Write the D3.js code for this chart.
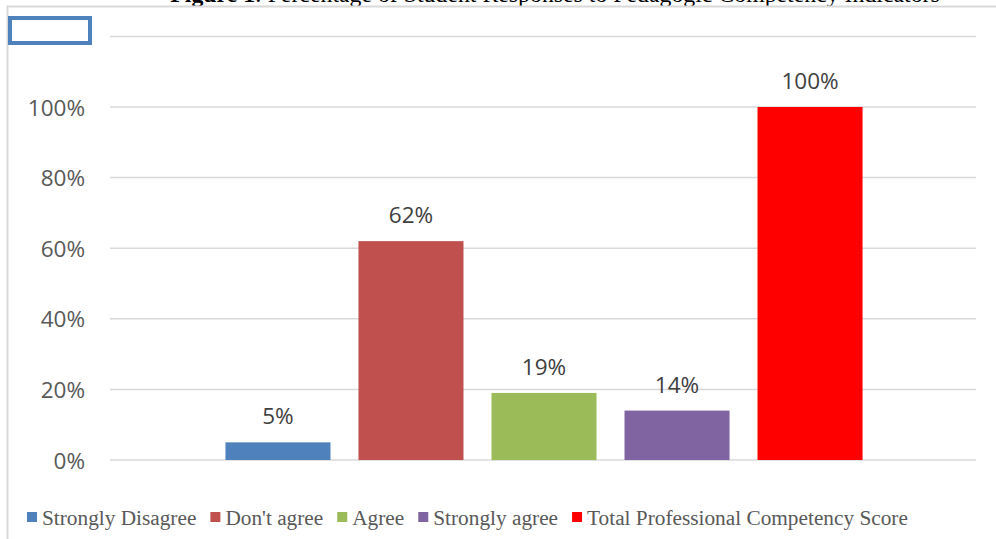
<!DOCTYPE html>
<html><head><meta charset="utf-8">
<script src="https://cdn.jsdelivr.net/npm/d3@7"></script>
<style>html,body{margin:0;padding:0;background:#fff;overflow:hidden}</style>
</head><body>
<svg id="chart" width="996" height="539"></svg>
<script>
const seriesNames = ["Strongly Disagree", "Don't agree", "Agree", "Strongly agree", "Total Professional Competency Score"];
const seriesValues = [0.05, 0.62, 0.19, 0.14, 1.00];
const seriesColors = ["#4f81bd", "#c0504d", "#9bbb59", "#8064a2", "#ff0000"];
const tickValues = [0, 0.2, 0.4, 0.6, 0.8, 1.0, 1.2];
const tickLabels = ["0%", "20%", "40%", "60%", "80%", "100%", ""];
const titleBold = "Figure 1";
const titleRest = ": Percentage of Student Responses to Pedagogic Competency Indicators";

const svg = d3.select("#chart");
const W = 996, H = 539;
const plot = {left: 112, right: 976, top: 36.4, bottom: 460};

// title (clipped at top as in source)
const title = svg.append("text").attr("x", 555).attr("y", 2).attr("text-anchor", "middle")
  .attr("font-family", "'Liberation Serif', 'Times New Roman', serif").attr("font-size", 23.8).attr("fill", "#000");
title.append("tspan").attr("font-weight", "bold").text(titleBold);
title.append("tspan").text(titleRest);

// chart border
svg.append("path").attr("d", `M7.5,${H} V6.5 H${W}`).attr("fill", "none").attr("stroke", "#d9d9d9").attr("stroke-width", 2);

// blue box
svg.append("rect").attr("x", 10).attr("y", 18).attr("width", 80).attr("height", 25)
  .attr("fill", "#fff").attr("stroke", "#4f81bd").attr("stroke-width", 4);

const y = d3.scaleLinear().domain([0, 1.2]).range([plot.bottom, plot.top]);
const x = d3.scaleBand().domain(seriesNames).range([plot.left, plot.right])
  .paddingInner(0.2105).paddingOuter(0.853);

// gridlines
svg.append("g").selectAll("line").data(tickValues).join("line")
  .attr("x1", plot.left - 2).attr("x2", plot.right)
  .attr("y1", d => y(d)).attr("y2", d => y(d))
  .attr("stroke", "#d9d9d9").attr("stroke-width", 1.5);

// y axis labels
const yAxis = d3.axisLeft(y).tickValues(tickValues).tickSize(0).tickPadding(0)
  .tickFormat((d, i) => tickLabels[i]);
const ya = svg.append("g").attr("transform", "translate(85,0)").call(yAxis);
ya.select(".domain").remove();
ya.selectAll("text").attr("font-family", "'Open Sans', sans-serif").attr("font-size", 22.5)
  .attr("fill", "#595959").attr("dy", "0.36em");

// bars
svg.append("g").selectAll("rect").data(seriesNames).join("rect")
  .attr("x", d => x(d)).attr("width", x.bandwidth())
  .attr("y", (d, i) => y(seriesValues[i]))
  .attr("height", (d, i) => y(0) - y(seriesValues[i]))
  .attr("fill", (d, i) => seriesColors[i]);

// data labels
svg.append("g").selectAll("text").data(seriesNames).join("text")
  .attr("x", d => x(d) + x.bandwidth() / 2)
  .attr("y", (d, i) => y(seriesValues[i]) - 18)
  .attr("text-anchor", "middle")
  .attr("font-family", "'Open Sans', sans-serif").attr("font-size", 22.5).attr("fill", "#404040")
  .text((d, i) => Math.round(seriesValues[i] * 100) + "%");

// legend
const legend = svg.append("g").attr("transform", "translate(27,525)");
let lx = 0;
seriesNames.forEach((name, i) => {
  const g = legend.append("g").attr("transform", `translate(${lx},0)`);
  g.append("rect").attr("x", 0).attr("y", -13).attr("width", 10).attr("height", 10).attr("fill", seriesColors[i]);
  const t = g.append("text").attr("x", 15).attr("y", 0)
    .attr("font-family", "'Liberation Serif', 'Times New Roman', serif").attr("font-size", 21.3)
    .attr("fill", "#595959").text(name);
  lx += 15 + t.node().getComputedTextLength() + 14;
});
</script>
</body></html>
